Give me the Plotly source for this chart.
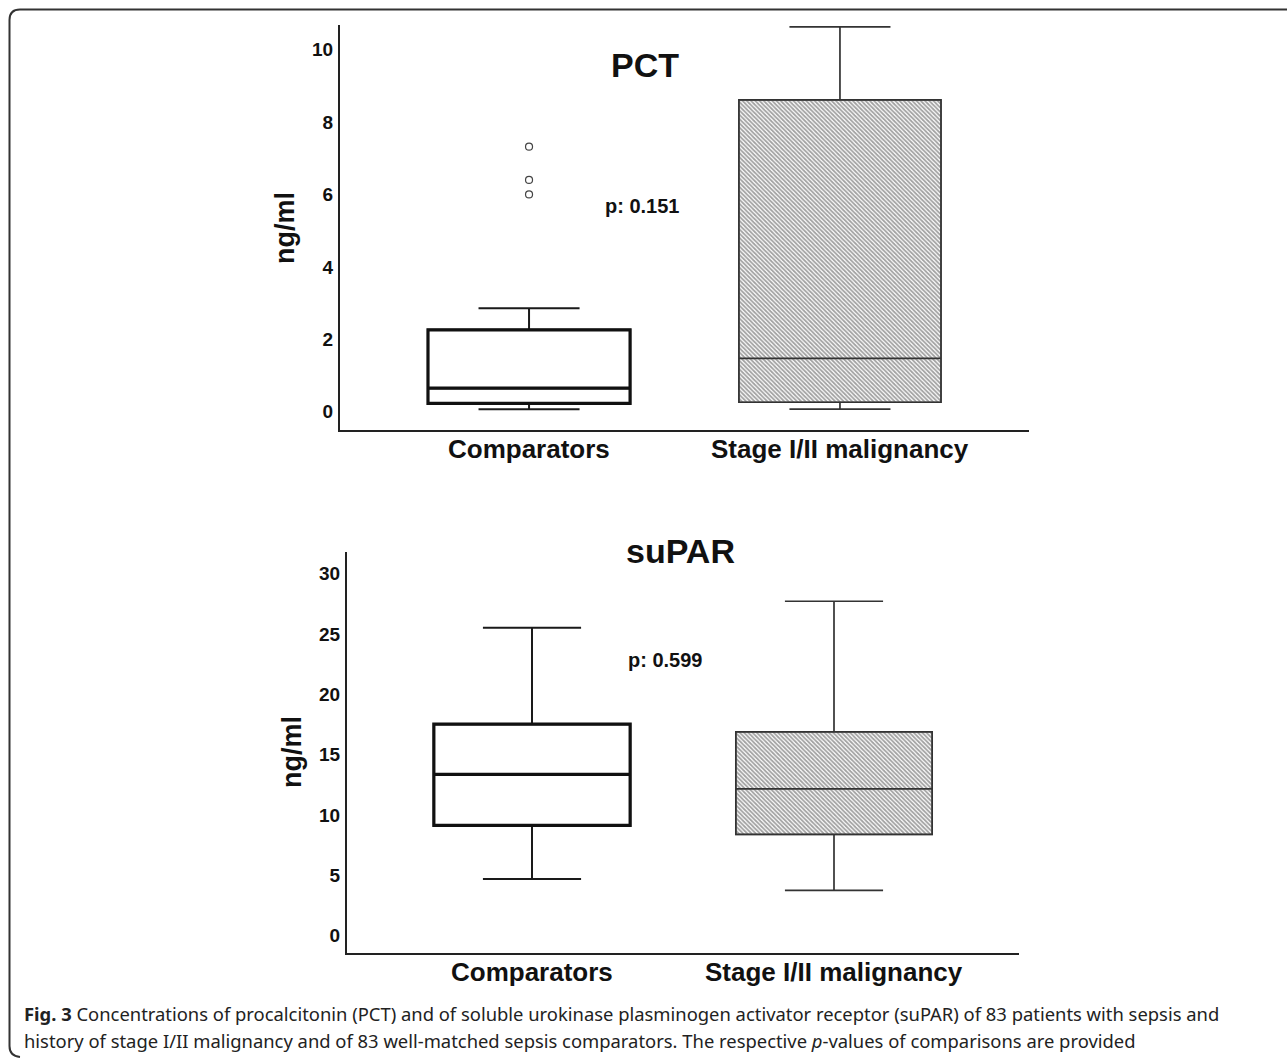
import plotly.graph_objects as go

W, H = 1287, 1058

categories = ["Comparators", "Stage I/II malignancy"]

# PCT (ng/ml): [Comparators, Stage I/II malignancy]
pct_lower = [0.07, 0.07]
pct_q1 = [0.23, 0.26]
pct_median = [0.65, 1.47]
pct_q3 = [2.26, 8.61]
pct_upper = [2.86, 10.63]
pct_outliers = [6.00, 6.40, 7.32]   # Comparators
pct_ticks = [0, 2, 4, 6, 8, 10]
pct_title = "PCT"
pct_p = "p: 0.151"

# suPAR (ng/ml)
supar_lower = [4.69, 3.76]
supar_q1 = [9.14, 8.39]
supar_median = [13.36, 12.17]
supar_q3 = [17.52, 16.89]
supar_upper = [25.5, 27.7]
supar_ticks = [0, 5, 10, 15, 20, 25, 30]
supar_title = "suPAR"
supar_p = "p: 0.599"

y_label = "ng/ml"
caption1 = ("<b>Fig. 3</b> Concentrations of procalcitonin (PCT) and of soluble urokinase plasminogen "
            "activator receptor (suPAR) of 83 patients with sepsis and")
caption2 = ("history of stage I/II malignancy and of 83 well-matched sepsis comparators. "
            "The respective <i>p</i>-values of comparisons are provided")

FONT = "Liberation Sans, Arial, sans-serif"


def px(x):
    return x / W


def py(y):
    return 1 - y / H


fig = go.Figure()


def add_panel(xa, ya, lower, q1, med, q3, upper, outliers):
    c0, c1 = categories
    # hatched box for stage I/II malignancy
    fig.add_trace(go.Bar(
        x=[c1], base=[q1[1]], y=[q3[1] - q1[1]], width=0.65,
        marker=dict(color="white", line=dict(color="#777", width=1.5),
                    pattern=dict(shape="\\", fgcolor="#444", bgcolor="white",
                                 size=3, solidity=0.6)),
        xaxis=xa, yaxis=ya, showlegend=False, hoverinfo="skip"))
    fig.add_trace(go.Box(
        x=[c1], q1=[q1[1]], median=[med[1]], q3=[q3[1]],
        lowerfence=[lower[1]], upperfence=[upper[1]],
        width=0.65, whiskerwidth=0.5, fillcolor="rgba(0,0,0,0)",
        line=dict(color="#333", width=1.7),
        xaxis=xa, yaxis=ya, showlegend=False))
    # comparators: thin whiskers
    fig.add_trace(go.Box(
        x=[c0], q1=[q1[0]], median=[med[0]], q3=[q3[0]],
        lowerfence=[lower[0]], upperfence=[upper[0]],
        width=0.65, whiskerwidth=0.5, fillcolor="rgba(0,0,0,0)",
        line=dict(color="#1a1a1a", width=2),
        xaxis=xa, yaxis=ya, showlegend=False))
    # comparators: thick box and median
    fig.add_trace(go.Box(
        x=[c0], q1=[q1[0]], median=[med[0]], q3=[q3[0]],
        lowerfence=[q1[0]], upperfence=[q3[0]],
        width=0.65, whiskerwidth=0, fillcolor="rgba(0,0,0,0)",
        line=dict(color="#111", width=3.2),
        xaxis=xa, yaxis=ya, showlegend=False))
    if outliers:
        fig.add_trace(go.Scatter(
            x=[c0] * len(outliers), y=outliers, mode="markers",
            marker=dict(symbol="circle-open", size=7, color="#444",
                        line=dict(width=1.2, color="#444")),
            xaxis=xa, yaxis=ya, showlegend=False))


add_panel("x", "y", pct_lower, pct_q1, pct_median, pct_q3, pct_upper, pct_outliers)
add_panel("x2", "y2", supar_lower, supar_q1, supar_median, supar_q3, supar_upper, [])

xcommon = dict(showline=True, linecolor="#222", linewidth=2, mirror=False,
               showgrid=False, zeroline=False, ticks="", showticklabels=False,
               type="category", categoryorder="array", categoryarray=categories)
ycommon = dict(showline=True, linecolor="#222", linewidth=2, mirror=False,
               showgrid=False, zeroline=False, ticks="", ticklabelstandoff=1,
               tickfont=dict(family=FONT, size=19, color="#111", weight="bold"))

fig.update_layout(
    width=W, height=H, margin=dict(l=0, r=0, t=0, b=0),
    paper_bgcolor="white", plot_bgcolor="white",
    boxmode="overlay", showlegend=False,
    xaxis=dict(domain=[px(340), px(1029)], range=[-0.608, 1.608], anchor="y", **xcommon),
    yaxis=dict(domain=[py(430), py(25)], range=[-0.506, 10.68], anchor="x",
               tickvals=pct_ticks, **ycommon),
    xaxis2=dict(domain=[px(347), px(1019)], range=[-0.6126, 1.6126], anchor="y2", **xcommon),
    yaxis2=dict(domain=[py(953), py(552)], range=[-1.43, 31.78], anchor="x2",
                tickvals=supar_ticks, **ycommon),
)

# category labels
for xref, ycen in [("x", 449), ("x2", 972)]:
    for c in categories:
        fig.add_annotation(text=c, x=c, y=py(ycen), xref=xref, yref="paper",
                           xanchor="center", yanchor="middle", showarrow=False,
                           font=dict(family=FONT, size=26, color="#111", weight="bold"))

ann = [
    dict(text=pct_title, x=px(645), y=py(65), size=34),
    dict(text=supar_title, x=px(680), y=py(551), size=34),
    dict(text=pct_p, x=px(642), y=py(206), size=20),
    dict(text=supar_p, x=px(665), y=py(660), size=20),
]
for a in ann:
    fig.add_annotation(text=a["text"], x=a["x"], y=a["y"], xref="paper", yref="paper",
                       xanchor="center", yanchor="middle", showarrow=False,
                       font=dict(family=FONT, size=a["size"], color="#111", weight="bold"))

for (x, y) in [(285, 228), (292, 752)]:
    fig.add_annotation(text=y_label, x=px(x), y=py(y), xref="paper", yref="paper",
                       xanchor="center", yanchor="middle", showarrow=False, textangle=-90,
                       font=dict(family=FONT, size=27, color="#111", weight="bold"))

for (txt, y) in [(caption1, 1013), (caption2, 1040)]:
    fig.add_annotation(text=txt, x=px(22), y=py(y), xref="paper", yref="paper",
                       xanchor="left", yanchor="middle", showarrow=False,
                       font=dict(family="Noto Sans, sans-serif", size=18.4, color="#222"))

# rounded frame (top and left edges)
frame = (f"M {px(1290)},{py(9.5)} L {px(20)},{py(9.5)} Q {px(9.5)},{py(9.5)} {px(9.5)},{py(20)} "
         f"L {px(9.5)},{py(1046)} Q {px(9.5)},{py(1056)} {px(20)},{py(1057)}")
fig.add_shape(type="path", path=frame, xref="paper", yref="paper",
              line=dict(color="#333", width=2))

fig.write_html("out.html", config={"displayModeBar": False},
               post_script="document.body.style.margin='0';document.body.style.overflow='hidden';")
